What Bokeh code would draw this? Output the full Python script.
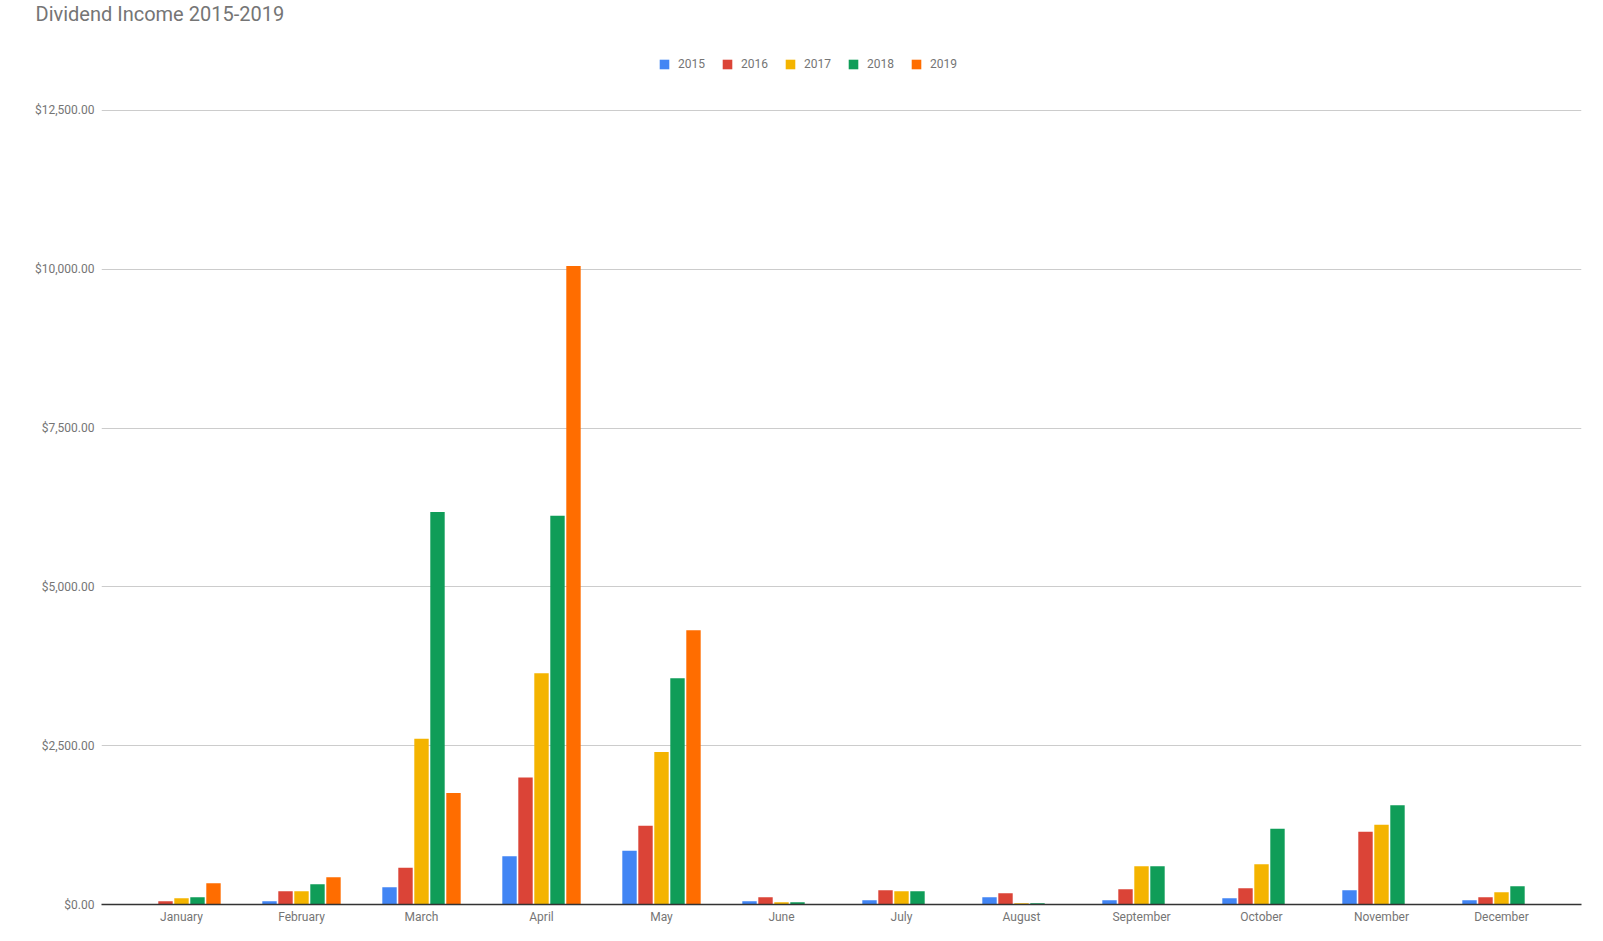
from bokeh.plotting import figure
from bokeh.models import (ColumnDataSource, FactorRange, Range1d, NumeralTickFormatter,
                          FixedTicker, Legend, LegendItem)
from bokeh.transform import dodge
from bokeh.embed import file_html
from bokeh.resources import INLINE

MONTHS = ["January", "February", "March", "April", "May", "June", "July",
          "August", "September", "October", "November", "December"]
YEARS = ["2015", "2016", "2017", "2018", "2019"]
V2015 = [0, 52, 272, 760, 845, 52, 68, 115, 68, 100, 225, 68]
V2016 = [52, 210, 580, 2000, 1240, 115, 225, 178, 241, 257, 1144, 115]
V2017 = [100, 210, 2610, 3640, 2400, 37, 210, 21, 603, 634, 1256, 194]
V2018 = [115, 320, 6179, 6120, 3560, 37, 210, 21, 603, 1192, 1562, 288]
V2019 = [335, 430, 1756, 10050, 4317, 0, 0, 0, 0, 0, 0, 0]
COLORS = ["#4285F4", "#DB4437", "#F4B400", "#0F9D58", "#FF6D00"]
Y_TICKS = [0, 2500, 5000, 7500, 10000, 12500]
TITLE = "Dividend Income 2015-2019"

GRAY = "#757575"
FONT = "Roboto"

source = ColumnDataSource(dict(month=MONTHS, y2015=V2015, y2016=V2016,
                               y2017=V2017, y2018=V2018, y2019=V2019))

FRAME_TOP = 27
x_range = FactorRange(factors=MONTHS, range_padding=1/6, range_padding_units="absolute")
# baseline at 904 px, 12,500 at 109 px
y_range = Range1d(0, 12500 * (904 - FRAME_TOP) / 795)

p = figure(width=1595, height=933, x_range=x_range, y_range=y_range,
           output_backend="svg", toolbar_location=None, title=TITLE,
           min_border_left=101, min_border_right=14, min_border_top=FRAME_TOP,
           min_border_bottom=29)
p.outline_line_color = None
p.background_fill_color = "white"
p.border_fill_color = "white"

p.title.align = "left"
p.title.vertical_align = "top"
p.title.offset = -66
p.title.standoff = 2
p.title.text_font = FONT
p.title.text_font_size = "20px"
p.title.text_font_style = "normal"
p.title.text_color = GRAY

renderers = []
cols = ["y2015", "y2016", "y2017", "y2018", "y2019"]
for i, (col, color) in enumerate(zip(cols, COLORS)):
    r = p.vbar(x=dodge("month", (i - 2) * 0.1333, range=p.x_range), top=col,
               width=0.12, source=source, fill_color=color, line_color=None)
    renderers.append(r)

legend = Legend(items=[LegendItem(label=y, renderers=[r]) for y, r in zip(YEARS, renderers)],
                orientation="horizontal", location=(557, 833),
                glyph_width=12, glyph_height=12, label_standoff=8, spacing=16,
                padding=0, margin=0, border_line_color=None,
                background_fill_alpha=0,
                label_text_font=FONT, label_text_font_size="12px",
                label_text_color=GRAY)
p.add_layout(legend, "center")

# y axis
p.yaxis.ticker = FixedTicker(ticks=Y_TICKS)
p.yaxis.formatter = NumeralTickFormatter(format="$0,0.00")
p.yaxis.axis_line_color = None
p.yaxis.major_tick_line_color = None
p.yaxis.minor_tick_line_color = None
p.yaxis.major_label_text_font = FONT
p.yaxis.major_label_text_font_size = "12px"
p.yaxis.major_label_text_color = GRAY
p.yaxis.major_label_standoff = 1

# x axis
p.xaxis.axis_line_color = "#333333"
p.xaxis.axis_line_width = 1.5
p.xaxis.major_tick_line_color = None
p.xaxis.minor_tick_line_color = None
p.xaxis.major_label_text_font = FONT
p.xaxis.major_label_text_font_size = "12px"
p.xaxis.major_label_text_color = GRAY
p.xaxis.major_label_standoff = -1

p.xgrid.grid_line_color = None
p.ygrid.grid_line_color = "#cccccc"
p.ygrid.grid_line_width = 1

open("out.html", "w").write(file_html(p, INLINE))
